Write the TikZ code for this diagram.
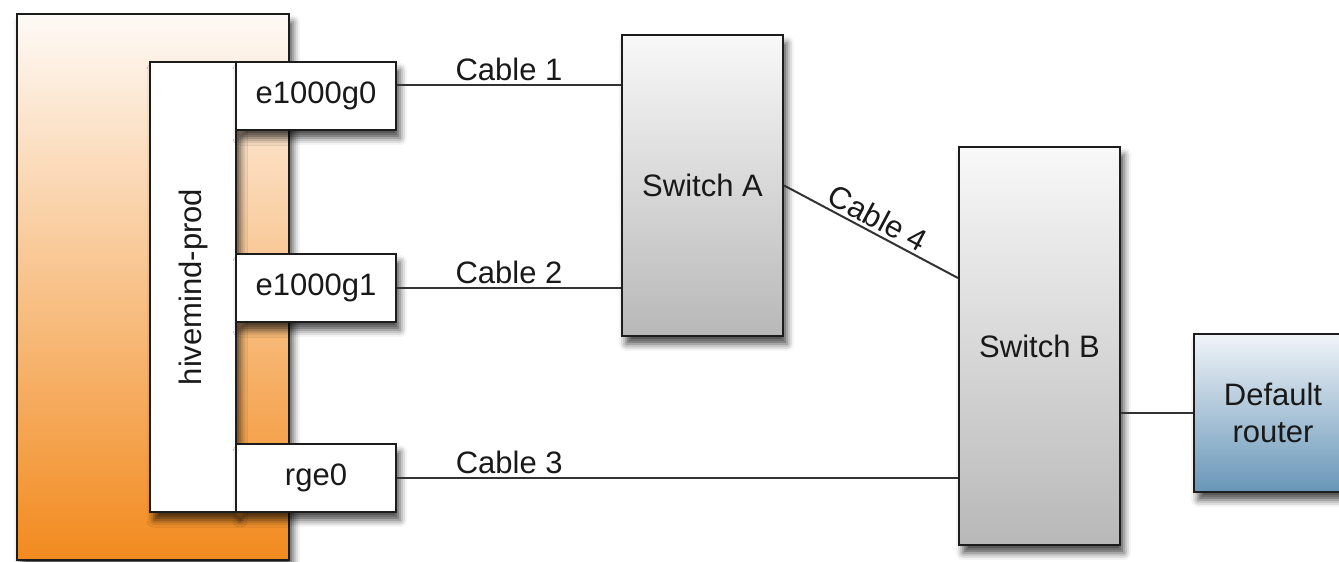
\documentclass[tikz,border=0pt]{standalone}
\usepackage{fontspec}
\setmainfont{Liberation Sans}
\usetikzlibrary{calc,shadows.blur}

\definecolor{hosttop}{RGB}{254,250,246}
\definecolor{hostbot}{RGB}{242,138,30}
\definecolor{switchtop}{RGB}{248,248,248}
\definecolor{switchbot}{RGB}{184,184,184}
\definecolor{routertop}{RGB}{240,244,248}
\definecolor{routerbot}{RGB}{104,150,184}
\definecolor{edge}{RGB}{28,28,28}

\tikzset{
	box/.style={draw=edge, line width=2.2pt, inner sep=0pt,
		blur shadow={shadow xshift=4pt, shadow yshift=-8pt, shadow blur radius=7pt, shadow opacity=70}},
	port/.style={box, fill=white, minimum width=160pt, minimum height=68pt},
	switchbox/.style={box, top color=switchtop, bottom color=switchbot, minimum width=161pt},
	cable/.style={draw=black!80, line width=2pt},
	cablelabel/.style={above=1pt, inner sep=2pt, text=black!90},
}

\begin{document}
\begin{tikzpicture}[x=1pt, y=-1pt, font=\fontsize{31}{37}\selectfont, text=black!90]
			%%%%% START %%%%%
			\useasboundingbox (0, 0) rectangle (1339, 562);
			\clip (0, 0) rectangle (1339, 562);
			
			% host and its interfaces
			\node[box, top color=hosttop, bottom color=hostbot, minimum width=272pt, minimum height=546pt] (host) at (153, 287) {};
			\node[box, fill=white, rotate=90, minimum width=450pt, minimum height=86pt] (hm) at (193, 287) {hivemind-prod};
			\node[port] (e0) at (316, 96) {e1000g0};
			\node[port] (e1) at (316, 288) {e1000g1};
			\node[port] (rge) at (316, 478) {rge0};
			
			% switches and router
			\node[switchbox, minimum height=301pt] (swA) at (702.5, 185.5) {Switch A};
			\node[switchbox, minimum height=398pt] (swB) at (1039.5, 346) {Switch B};
			\node[box, top color=routertop, bottom color=routerbot, minimum width=158pt, minimum height=158pt, align=center] (router) at (1273, 413) {Default\\router};
			
			% cables
			\coordinate (c1) at ([yshift=11pt]e0.east);
			\draw[cable] (c1) -- (c1 -| swA.west) node[midway, cablelabel] {Cable 1};
			\draw[cable] (e1.east) -- (e1.east -| swA.west) node[midway, cablelabel] {Cable 2};
			\draw[cable] (rge.east) -- (rge.east -| swB.west) node[pos=0.2, cablelabel] {Cable 3};
			\draw[cable] (swA.east) -- ($(swB.north west)!0.33!(swB.south west)$) node[midway, sloped, cablelabel] {Cable 4};
			\draw[cable] (router.west -| swB.east) -- (router.west);
			%%%%% END %%%%%
\end{tikzpicture}
\end{document}
